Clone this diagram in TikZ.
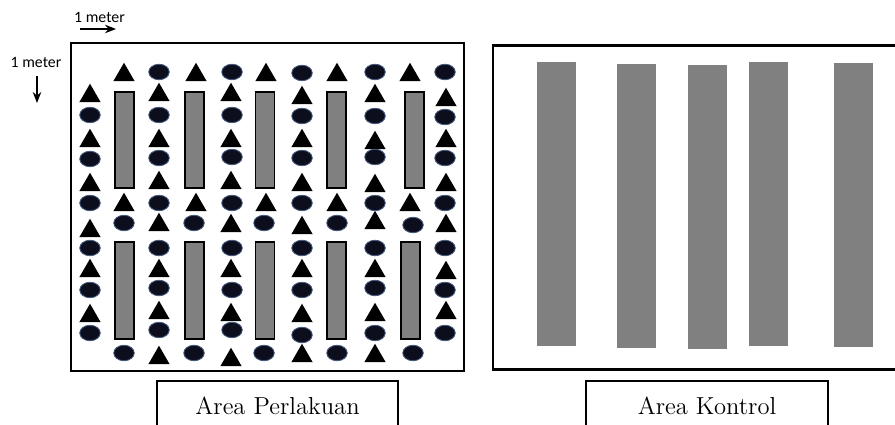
\documentclass[tikz,border=0pt]{standalone}
\usepackage{fontspec}
\setsansfont{Carlito}
\usetikzlibrary{shapes.geometric, arrows.meta, positioning}
\definecolor{bedgray}{RGB}{128,128,128}
\definecolor{seednavy}{RGB}{12,14,30}
\definecolor{seedrim}{RGB}{70,90,125}

\begin{document}
\begin{tikzpicture}[
    x=0.02cm, y=-0.02cm,
    plot/.style={rectangle, draw=black, line width=1.3pt, inner sep=0pt},
    bed/.style={rectangle, draw=black, fill=bedgray, line width=0.6pt, inner sep=0pt, minimum width=0.38cm},
    ctrlbed/.style={rectangle, fill=bedgray, inner sep=0pt, minimum width=0.78cm, minimum height=5.68cm},
    tri/.style={regular polygon, regular polygon sides=3, fill=black, inner sep=0pt, minimum size=0.49cm, yshift=-1.7pt},
    dot/.style={ellipse, fill=seednavy, draw=seedrim, line width=0.5pt, inner sep=0pt, minimum width=0.41cm, minimum height=0.31cm},
    tag/.style={rectangle, draw=black, line width=1pt, minimum height=1cm, font=\fontsize{14}{16}\selectfont},
    scaletext/.style={font=\sffamily\fontsize{9}{11}\selectfont},
    arrow/.style={-{Stealth[length=2.2mm, width=1.7mm]}, line width=0.8pt}
]
\useasboundingbox (0,0) rectangle (895,425);

% the two plots
\node[plot, minimum width=7.86cm, minimum height=6.56cm] (treat) at (267.5,207) {};
\node[plot, minimum width=8.24cm, minimum height=6.48cm] (ctrl) at (699,207.5) {};

% scale
\node[scaletext] (mx) at (99.5,17) {1 meter};
\coordinate (mxa) at (80,29); \coordinate (mxb) at (116,29);
\draw[arrow] (mxa) -- (mxb);
\node[scaletext] (my) at (36,62) {1 meter};
\coordinate (mya) at (37,76); \coordinate (myb) at (37,103);
\draw[arrow] (mya) -- (myb);

% beds in the treatment plot
\foreach \x [count=\i] in {124.5,194.5,265,336.5,414.5}
    \node[bed, minimum height=1.92cm] (bu\i) at (\x,140) {};
\foreach \x [count=\i] in {124.5,194.5,265,336.5,410.5}
    \node[bed, minimum height=1.94cm] (bl\i) at (\x,290.5) {};

% triangles
\foreach \x/\ys in {90/{93,138,182,228,268,313}, 159/{92,138,180,222,268,310,355},
    231/{92,138,180,223,268,312,357}, 302/{95,138,182,225,268,313,353},
    375/{93,140,183,220,268,312,353}, 446/{97,138,182,223,270,310},
    124/{72,202}, 196/{72,202}, 266/{72,202}, 337/{72,202}, 410/{72,202}}
    \foreach \y in \ys
        \node[tri] (t\x-\y) at (\x,\y) {};

% circles
\foreach \x/\ys in {90/{115,159,203,248,290,333}, 159/{72,115,158,203,248,288,330},
    232/{72,115,157,203,248,290,330}, 302/{73,116,158,203,248,290,335},
    375/{72,116,157,203,248,288,333}, 445/{72,117,158,203,248,290,333},
    124/{223,353}, 194/{223,353}, 264/{223,353}, 337/{223,353}, 413/{225,353}}
    \foreach \y in \ys
        \node[dot] (c\x-\y) at (\x,\y) {};

% beds in the control plot
\foreach \x/\y [count=\i] in {556/204, 636.5/206, 707.5/207, 768.5/204, 853.5/205}
    \node[ctrlbed] (kb\i) at (\x,\y) {};

% labels
\node[tag, minimum width=4.82cm, anchor=north] (tagP) at (277.5,380) {Area Perlakuan};
\node[tag, minimum width=4.84cm, anchor=north] (tagK) at (707,380) {Area Kontrol};
\end{tikzpicture}
\end{document}
